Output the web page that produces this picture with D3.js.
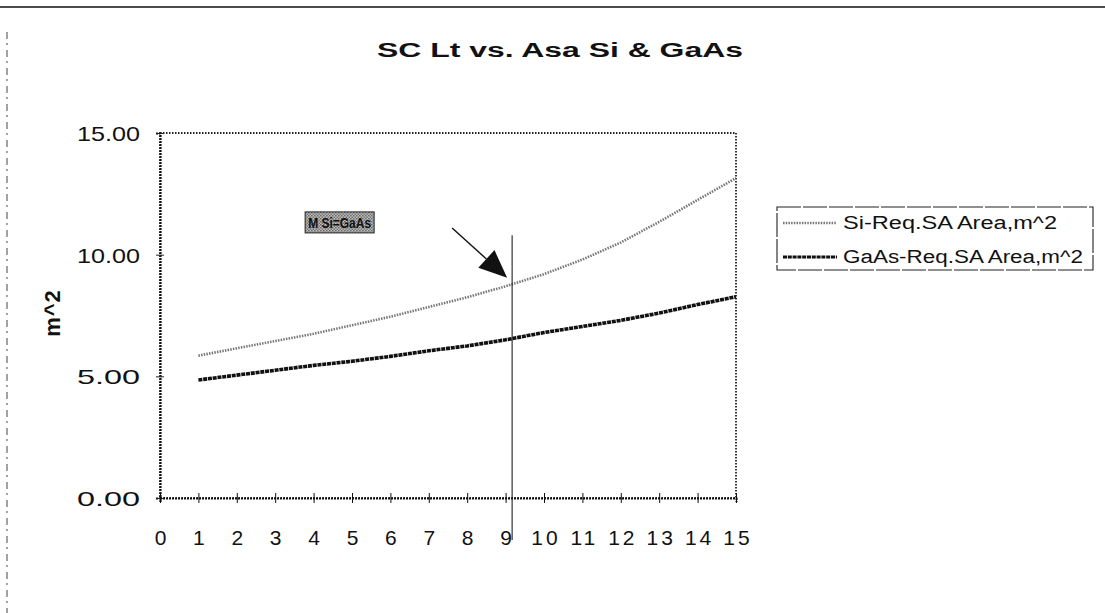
<!DOCTYPE html>
<html>
<head>
<meta charset="utf-8">
<script src="https://cdn.jsdelivr.net/npm/d3@7"></script>
<style>
  body { margin: 0; background: #fff; }
  text { font-family: "Liberation Sans", Arial, sans-serif; fill: #111; }
</style>
</head>
<body>
<div id="chart"></div>
<script>
// chart data
var xValues = [1, 2, 3, 4, 5, 6, 7, 8, 9, 10, 11, 12, 13, 14, 15];
var siArea = [5.85, 6.15, 6.45, 6.75, 7.1, 7.45, 7.85, 8.25, 8.7, 9.2, 9.8, 10.5, 11.35, 12.25, 13.15];
var gaasArea = [4.85, 5.05, 5.25, 5.45, 5.62, 5.82, 6.05, 6.25, 6.5, 6.8, 7.05, 7.3, 7.6, 7.95, 8.27];
var xTicks = [0, 1, 2, 3, 4, 5, 6, 7, 8, 9, 10, 11, 12, 13, 14, 15];
var yTicks = [0, 5, 10, 15];
var seriesNames = ["Si-Req.SA  Area,m^2", "GaAs-Req.SA Area,m^2"];
var markX = 9.17;
var markLabel = "M Si=GaAs";

var W = 1105, H = 613;
var margin = { top: 133, right: 369, bottom: 115, left: 160 },
    width = W - margin.left - margin.right,
    height = H - margin.top - margin.bottom;

var svg = d3.select("#chart")
  .append("svg")
  .attr("width", W)
  .attr("height", H);

// halftone fill for the annotation box
var defs = svg.append("defs");
var pat = defs.append("pattern")
  .attr("id", "dots")
  .attr("width", 3).attr("height", 3)
  .attr("patternUnits", "userSpaceOnUse");
pat.append("rect").attr("width", 3).attr("height", 3).attr("fill", "#cfcfcf");
pat.append("rect").attr("width", 1.5).attr("height", 1.5).attr("fill", "#555");
pat.append("rect").attr("x", 1.5).attr("y", 1.5).attr("width", 1.5).attr("height", 1.5).attr("fill", "#666");

// page edges (scan frame)
svg.append("line")
  .attr("x1", 0).attr("x2", W).attr("y1", 7).attr("y2", 7)
  .attr("stroke", "#111").attr("stroke-width", 1.6);
svg.append("line")
  .attr("x1", 7).attr("x2", 7).attr("y1", 32).attr("y2", H)
  .attr("stroke", "#444").attr("stroke-width", 1)
  .attr("stroke-dasharray", "7,4,2,5");

// title
svg.append("text")
  .attr("x", 377).attr("y", 57)
  .attr("textLength", 366)
  .attr("lengthAdjust", "spacingAndGlyphs")
  .style("font-size", "20px")
  .style("font-weight", "bold")
  .text("SC Lt vs. Asa Si & GaAs");

var g = svg.append("g")
  .attr("transform", "translate(" + margin.left + "," + margin.top + ")");

var x = d3.scaleLinear().domain([0, 15]).range([0, width]);
var y = d3.scaleLinear().domain([0, 15]).range([height, 0]);

// plot frame (dotted)
g.append("rect")
  .attr("width", width).attr("height", height)
  .attr("fill", "none")
  .attr("stroke", "#222")
  .attr("stroke-width", 1.8)
  .attr("stroke-dasharray", "1.5,1.5");

// y axis
var yAxis = g.append("g")
  .call(d3.axisLeft(y).tickValues(yTicks).tickSize(4).tickFormat(d3.format(".2f")));
yAxis.select(".domain").attr("stroke", "#111").attr("stroke-width", 2.2).attr("stroke-dasharray", "2,1");
yAxis.selectAll(".tick line").attr("stroke", "#222").attr("x2", -4).attr("x1", 4);
yAxis.selectAll("text")
  .attr("x", -20)
  .attr("dy", "0.36em")
  .attr("textLength", 63)
  .attr("lengthAdjust", "spacingAndGlyphs")
  .style("font-size", "21px");

// x axis
var xAxis = g.append("g")
  .attr("transform", "translate(0," + height + ")")
  .call(d3.axisBottom(x).tickValues(xTicks).tickSize(4).tickFormat(d3.format("d")));
xAxis.select(".domain").attr("stroke", "#111").attr("stroke-width", 2.2).attr("stroke-dasharray", "2,1");
xAxis.selectAll(".tick line").attr("stroke", "#111").attr("y1", -5).attr("y2", 5);
xAxis.selectAll("text")
  .attr("y", 39)
  .attr("dx", "1.5px")
  .attr("dy", "0.36em")
  .style("font-size", "21px")
  .style("letter-spacing", "3px");

// y axis label
svg.append("text")
  .attr("transform", "translate(52,313) rotate(-90)")
  .attr("text-anchor", "middle")
  .attr("dy", "0.36em")
  .style("font-size", "22px")
  .style("font-weight", "bold")
  .style("letter-spacing", "1px")
  .text("m^2");

// lines
var line = d3.line()
  .x(function(d, i) { return x(xValues[i]); })
  .y(function(d) { return y(d); });

g.append("path")
  .datum(siArea)
  .attr("fill", "none")
  .attr("stroke", "#777")
  .attr("stroke-width", 2.6)
  .attr("stroke-dasharray", "1.5,1.2")
  .attr("d", line);

g.append("path")
  .datum(gaasArea)
  .attr("fill", "none")
  .attr("stroke", "#111")
  .attr("stroke-width", 3.6)
  .attr("stroke-dasharray", "4,0.8")
  .attr("d", line);

// marker line at the crossover
g.append("line")
  .attr("x1", x(markX)).attr("x2", x(markX))
  .attr("y1", y(10.8)).attr("y2", height + 42)
  .attr("stroke", "#222").attr("stroke-width", 1.1);

// annotation box, left of the marker line
var boxW = 69, boxH = 21;
var boxX = x(markX) - 207, boxY = y(11.1) - 16;
var box = g.append("g").attr("transform", "translate(" + boxX + "," + boxY + ")");
box.append("rect")
  .attr("width", boxW).attr("height", boxH)
  .attr("fill", "url(#dots)")
  .attr("stroke", "#222").attr("stroke-width", 1);
box.append("text")
  .attr("x", 3).attr("y", 16)
  .attr("textLength", 63)
  .attr("lengthAdjust", "spacingAndGlyphs")
  .style("font-size", "15px")
  .style("font-weight", "bold")
  .text(markLabel);

// annotation arrow
var tip = [x(markX) - 5, y(9.05)];
var tail = [x(markX) - 60, y(11.1)];
var ang = Math.atan2(tip[1] - tail[1], tip[0] - tail[0]);
var headLen = 28, headW = 12;
var bx = tip[0] - headLen * Math.cos(ang), by = tip[1] - headLen * Math.sin(ang);
g.append("line")
  .attr("x1", tail[0]).attr("y1", tail[1])
  .attr("x2", bx).attr("y2", by)
  .attr("stroke", "#111").attr("stroke-width", 1.4);
g.append("path")
  .attr("d", "M" + tip[0] + "," + tip[1] +
    "L" + (bx + headW * Math.sin(ang)) + "," + (by - headW * Math.cos(ang)) +
    "L" + (bx - headW * Math.sin(ang)) + "," + (by + headW * Math.cos(ang)) + "Z")
  .attr("fill", "#111");

// legend
var leg = svg.append("g").attr("transform", "translate(777,207)");
leg.append("rect")
  .attr("width", 316).attr("height", 63)
  .attr("fill", "none")
  .attr("stroke", "#222").attr("stroke-width", 1.1)
  .attr("stroke-dasharray", "24,2");
var legItems = [
  { name: seriesNames[0], color: "#777", w: 2.4, dash: "1.5,1.2", len: 214 },
  { name: seriesNames[1], color: "#111", w: 3, dash: "4,0.8", len: 240 }
];
legItems.forEach(function(d, i) {
  var yy = 16 + i * 34;
  leg.append("line")
    .attr("x1", 6).attr("x2", 60).attr("y1", yy).attr("y2", yy)
    .attr("stroke", d.color).attr("stroke-width", d.w)
    .attr("stroke-dasharray", d.dash);
  leg.append("text")
    .attr("x", 66).attr("y", yy + 6)
    .attr("textLength", d.len)
    .attr("lengthAdjust", "spacingAndGlyphs")
    .style("font-size", "18px")
    .text(d.name);
});
</script>
</body>
</html>
